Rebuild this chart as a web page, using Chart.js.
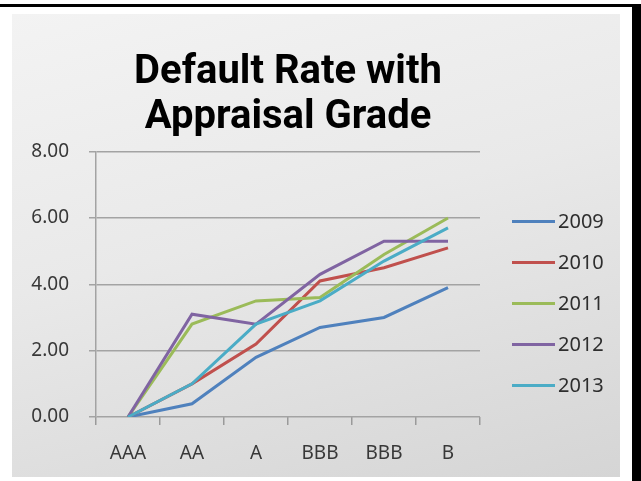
<!DOCTYPE html>
<html>
<head>
<meta charset="utf-8">
<title>Default Rate with Appraisal Grade</title>
<script src="https://cdn.jsdelivr.net/npm/chart.js@4.4.1/dist/chart.umd.min.js"></script>
<style>
  html, body { margin: 0; padding: 0; background: #ffffff; }
  body { width: 641px; height: 481px; position: relative; overflow: hidden; }
  .topRule { position: absolute; left: 0; top: 4px; width: 641px; height: 3px; background: #000; }
  .rightRule { position: absolute; left: 632px; top: 4px; width: 9px; height: 477px; background: #000; }
  .panel {
    position: absolute; left: 12px; top: 14px; width: 608px; height: 463px;
    background: linear-gradient(165deg, #f3f3f3 0%, #e9e9e9 45%, #d5d5d5 100%);
  }
</style>
</head>
<body>
<div class="topRule"></div>
<div class="rightRule"></div>
<div class="panel"><canvas id="myChart" width="608" height="463"></canvas></div>

<script>
// grades on the x axis
const grades = ['AAA', 'AA', 'A', 'BBB', 'BBB', 'B'];

// default rate per grade, one array per year
const rate2009 = [0, 0.4, 1.8, 2.7, 3.0, 3.9];
const rate2010 = [0, 1.0, 2.2, 4.1, 4.5, 5.1];
const rate2011 = [0, 2.8, 3.5, 3.6, 4.9, 6.0];
const rate2012 = [0, 3.1, 2.8, 4.3, 5.3, 5.3];
const rate2013 = [0, 1.0, 2.8, 3.5, 4.7, 5.7];

const years = ['2009', '2010', '2011', '2012', '2013'];
const yearColors = ['#4f81bd', '#c0504d', '#9bbb59', '#8064a2', '#4bacc6'];

// y axis ticks
const yTicks = [0, 2, 4, 6, 8];

const textFont = "'Noto Sans', 'DejaVu Sans', sans-serif";

//legend drawn to the right of the plot, short line + year
const sideLegend = {
    id: 'sideLegend',
    afterDraw(chart) {
        const ctx = chart.ctx;
        const area = chart.chartArea;
        const x0 = area.right + 32;
        const lineLen = 43;
        const rowGap = 41;
        let y = area.top + 70;

        ctx.save();
        ctx.font = '20px ' + textFont;
        ctx.textBaseline = 'middle';
        ctx.textAlign = 'left';
        chart.data.datasets.forEach(ds => {
            ctx.strokeStyle = ds.borderColor;
            ctx.lineWidth = 3;
            ctx.beginPath();
            ctx.moveTo(x0, y);
            ctx.lineTo(x0 + lineLen, y);
            ctx.stroke();
            ctx.fillStyle = '#2e2e2e';
            ctx.fillText(ds.label, x0 + lineLen + 3, y + 1);
            y += rowGap;
        });
        ctx.restore();
    }
};

const seriesValues = [rate2009, rate2010, rate2011, rate2012, rate2013];

let datasets = years.map((year, i) => ({
    label: year,
    data: seriesValues[i],
    borderColor: yearColors[i],
    backgroundColor: yearColors[i],
    borderWidth: 3,
    pointRadius: 0,
    tension: 0,
    order: years.length - i
}));

let ctx = document.getElementById('myChart').getContext('2d');

let myChart = new Chart(ctx, {
    type: 'line',
    data: {
        labels: grades,
        datasets: datasets
    },
    options: {
        responsive: false,
        animation: false,
        layout: {
            padding: { left: 0, right: 140, top: 0, bottom: 0 }
        },
        plugins: {
            legend: { display: false },
            tooltip: { enabled: false },
            title: {
                display: true,
                fullSize: false,
                text: ['Default Rate with', 'Appraisal Grade'],
                color: '#000000',
                font: { family: "Roboto, 'Noto Sans', sans-serif", size: 40, weight: 'bold', lineHeight: 1.12 },
                padding: { top: 37, bottom: 11 }
            }
        },
        scales: {
            x: {
                type: 'category',
                offset: true,
                afterFit: (scale) => { scale.height = 60; },
                grid: {
                    offset: true,
                    drawOnChartArea: false,
                    drawTicks: true,
                    tickLength: 8,
                    color: '#9a9a9a',
                    lineWidth: 1.5
                },
                border: { display: false },
                ticks: {
                    color: '#383838',
                    padding: 17,
                    maxRotation: 0,
                    autoSkip: false,
                    font: { family: textFont, size: 19 }
                }
            },
            y: {
                min: 0,
                max: 8,
                afterFit: (scale) => { scale.width = 84; },
                afterBuildTicks: (scale) => {
                    scale.ticks = yTicks.map(v => ({ value: v }));
                },
                grid: {
                    color: '#a3a3a3',
                    lineWidth: 1.5,
                    tickLength: 7
                },
                border: { display: true, color: '#a3a3a3', width: 1.5 },
                ticks: {
                    color: '#383838',
                    padding: 20,
                    font: { family: textFont, size: 19 },
                    callback: (v) => Number(v).toFixed(2)
                }
            }
        }
    },
    plugins: [sideLegend]
});
</script>
</body>
</html>
